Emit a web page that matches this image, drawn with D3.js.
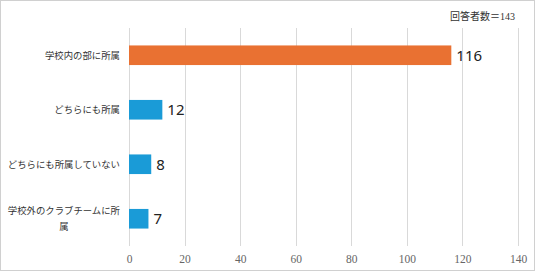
<!DOCTYPE html>
<html>
<head>
<meta charset="utf-8">
<script src="https://cdn.jsdelivr.net/npm/d3@7/dist/d3.min.js"></script>
<style>
  body { margin: 0; background: #fff; }
  svg { display: block; }
</style>
</head>
<body>
<script>
  // data
  const categories = ['学校内の部に所属', 'どちらにも所属', 'どちらにも所属していない', '学校外のクラブチームに所<br>属'];
  const values = [116, 12, 8, 7];
  const barColors = ['#E97132', '#1A9BD7', '#1A9BD7', '#1A9BD7'];
  const xTicks = [0, 20, 40, 60, 80, 100, 120, 140];
  const note = '回答者数＝143';

  const W = 536, H = 272;
  const margin = { top: 28, right: 18, bottom: 26, left: 129 };
  const width = W - margin.left - margin.right,
        height = H - margin.top - margin.bottom;

  const svg = d3.select('body').append('svg')
    .attr('width', W)
    .attr('height', H);

  // outer frame
  svg.append('rect')
    .attr('x', 0.5).attr('y', 0.5)
    .attr('width', W - 2).attr('height', H - 2)
    .attr('fill', '#fff')
    .attr('stroke', '#d0d0d0');

  const g = svg.append('g')
    .attr('transform', `translate(${margin.left}, ${margin.top})`);

  const x = d3.scaleLinear()
    .domain([0, 140])
    .range([0, width]);

  const y = d3.scaleBand()
    .domain(categories)
    .range([0, height])
    .paddingInner(0.64)
    .paddingOuter(0.32);

  // vertical gridlines
  g.append('g')
    .selectAll('line')
    .data(xTicks)
    .join('line')
      .attr('x1', d => Math.round(x(d)) + 0.5)
      .attr('x2', d => Math.round(x(d)) + 0.5)
      .attr('y1', 0)
      .attr('y2', height)
      .attr('stroke', '#d9d9d9');

  // x axis labels
  const xAxis = d3.axisBottom(x).tickValues(xTicks).tickSize(0).tickPadding(9);
  g.append('g')
    .attr('transform', `translate(0, ${height})`)
    .call(xAxis)
    .call(a => a.select('.domain').remove())
    .selectAll('text')
      .style('font-family', '"Liberation Serif", serif')
      .style('font-size', '11.5px')
      .attr('fill', '#666');

  // bars
  g.selectAll('rect.bar')
    .data(values)
    .join('rect')
      .attr('class', 'bar')
      .attr('x', 0)
      .attr('y', (d, i) => y(categories[i]))
      .attr('width', d => x(d))
      .attr('height', y.bandwidth())
      .attr('fill', (d, i) => barColors[i]);

  // value labels
  g.selectAll('text.val')
    .data(values)
    .join('text')
      .attr('class', 'val')
      .attr('x', d => x(d) + 5)
      .attr('y', (d, i) => y(categories[i]) + y.bandwidth() / 2)
      .attr('dy', '0.36em')
      .style('font-family', '"Noto Sans", sans-serif')
      .style('font-size', '15px')
      .attr('fill', '#222')
      .text(d => d);

  // category labels (wrapped lines are centred on the first line)
  const labelX = -9;
  categories.forEach(c => {
    const lines = c.split('<br>');
    const cy = y(c) + y.bandwidth() / 2;
    const t = g.append('text')
      .style('font-family', '"Noto Sans CJK JP", sans-serif')
      .style('font-size', '9.4px')
      .attr('fill', '#333');
    const first = t.append('tspan')
      .attr('x', labelX)
      .attr('y', cy - (lines.length - 1) * 8)
      .attr('dy', '0.35em')
      .attr('text-anchor', 'end')
      .text(lines[0]);
    if (lines.length > 1) {
      const w = first.node().getComputedTextLength();
      lines.slice(1).forEach((l, i) => {
        t.append('tspan')
          .attr('x', labelX - w / 2)
          .attr('y', cy - (lines.length - 1) * 8 + (i + 1) * 16)
          .attr('dy', '0.35em')
          .attr('text-anchor', 'middle')
          .text(l);
      });
    }
  });

  // respondents note
  svg.append('text')
    .attr('x', 515)
    .attr('y', 20)
    .attr('text-anchor', 'end')
    .style('font-family', '"Liberation Serif", "Noto Sans CJK JP", serif')
    .style('font-size', '10px')
    .attr('fill', '#333')
    .text(note);
</script>
</body>
</html>
